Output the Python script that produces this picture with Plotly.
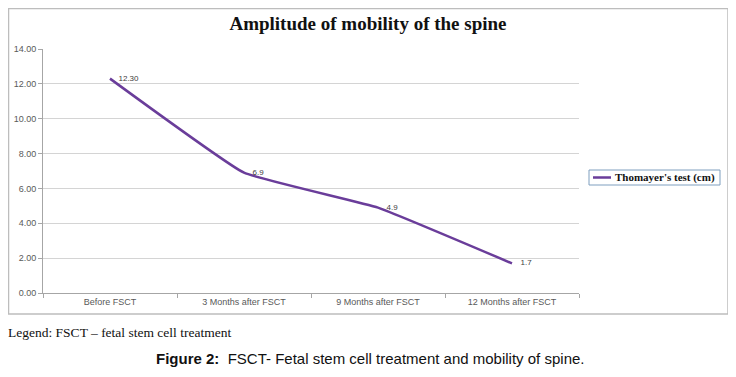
import plotly.graph_objects as go

categories = ["Before FSCT", "3 Months after FSCT", "9 Months after FSCT", "12 Months after FSCT"]
values = [12.30, 6.9, 4.9, 1.7]
value_labels = ["12.30", "6.9", "4.9", "1.7"]
series_name = "Thomayer's test (cm)"
y_ticks = [0, 2, 4, 6, 8, 10, 12, 14]

OFF = 8                      # page body margin of the html page
W, H = 736 - OFF, 377 - OFF
L, R, T, B = 43 - OFF, 579 - OFF, 49 - OFF, 293 - OFF   # plot area (figure px)


def px(x_page):
    return (x_page - OFF - L) / (R - L)


def py(y_page):
    return (B - (y_page - OFF)) / (B - T)


LINE_COLOR = "#6a3d9a"

fig = go.Figure()
fig.add_trace(go.Scatter(
    x=categories, y=values, name=series_name,
    mode="lines+markers+text", text=value_labels,
    textposition="middle right",
    textfont=dict(family="Liberation Sans", size=8, color="#404040"),
    marker=dict(size=12, color="rgba(0,0,0,0)"),
    line=dict(color=LINE_COLOR, width=2.5, shape="spline", smoothing=0.3),
    cliponaxis=False, showlegend=False,
))

tick_font = dict(family="Liberation Sans", size=9, color="#595959")
fig.update_layout(
    width=W, height=H,
    margin=dict(l=L, r=W - R, t=T, b=H - B, autoexpand=False),
    paper_bgcolor="white", plot_bgcolor="white",
    title=dict(text="<b>Amplitude of mobility of the spine</b>",
               font=dict(family="Liberation Serif", size=19, color="#111111"),
               x=px(368), xref="paper", xanchor="center",
               y=1 - (23 - OFF) / H, yref="container", yanchor="middle"),
    showlegend=False,
    xaxis=dict(type="category", range=[-0.5, 3.5], tickson="boundaries",
               ticks="outside", ticklen=4, tickcolor="#a6a6a6",
               showline=True, linecolor="#a6a6a6", linewidth=1,
               showgrid=False, tickfont=tick_font),
    yaxis=dict(range=[0, 14], tickvals=y_ticks, tickformat=".2f",
               ticks="outside", ticklen=4, tickcolor="#a6a6a6",
               showline=True, linecolor="#a6a6a6", linewidth=1,
               showgrid=True, gridcolor="#d4d4d4", gridwidth=1,
               zeroline=False, tickfont=tick_font),
)

# outer chart frame
fig.add_shape(type="rect", xref="paper", yref="paper",
              x0=px(8.5), x1=px(728), y0=py(314), y1=py(8.5),
              line=dict(color="#bdbdbd", width=1.5), layer="below")

# legend box (drawn)
fig.add_shape(type="rect", xref="paper", yref="paper",
              x0=px(589), x1=px(720), y0=py(185), y1=py(170),
              line=dict(color="#7f9fbf", width=1), fillcolor="white")
fig.add_shape(type="line", xref="paper", yref="paper",
              x0=px(593), x1=px(611), y0=py(177.5), y1=py(177.5),
              line=dict(color=LINE_COLOR, width=2.5))
fig.add_annotation(xref="paper", yref="paper", x=px(613), y=py(177.5),
                   xanchor="left", yanchor="middle", showarrow=False,
                   text="<b>" + series_name + "</b>",
                   font=dict(family="Liberation Serif", size=11, color="#111111"))

fig.add_annotation(xref="paper", yref="paper", x=px(6), y=py(332),
                   xanchor="left", yanchor="middle", showarrow=False,
                   text="Legend: FSCT \u2013 fetal stem cell treatment",
                   font=dict(family="Liberation Serif", size=13.5, color="#111111"))
fig.add_annotation(xref="paper", yref="paper", x=px(370), y=py(358),
                   xanchor="center", yanchor="middle", showarrow=False,
                   text="<b>Figure 2:</b>  FSCT- Fetal stem cell treatment and mobility of spine.",
                   font=dict(family="Liberation Sans", size=15, color="#111111"))

fig.write_html("out.html")
